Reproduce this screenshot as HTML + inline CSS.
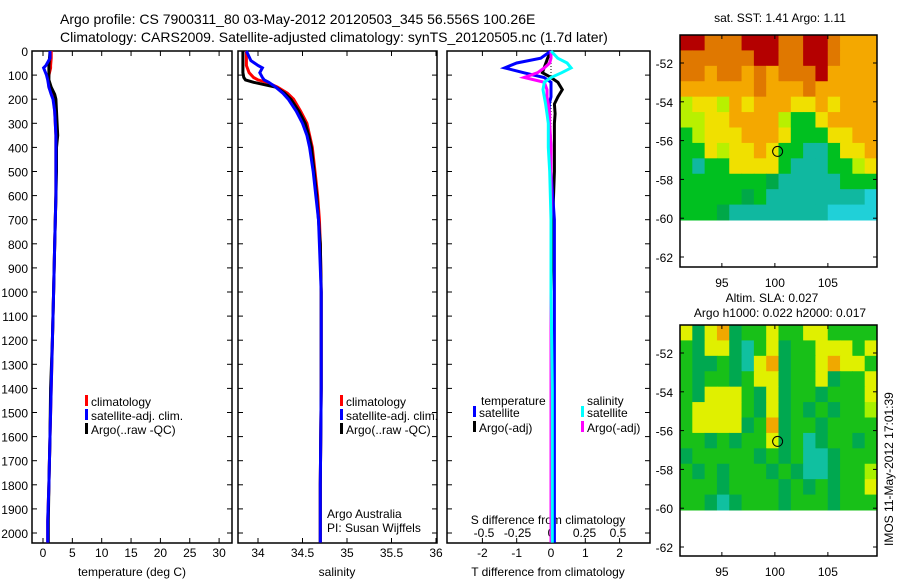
<!DOCTYPE html>
<html><head><meta charset="utf-8"><style>
body{margin:0;background:#fff}
svg{display:block;font-family:"Liberation Sans",sans-serif}
</style></head><body>
<svg id="fig" width="900" height="580" viewBox="0 0 900 580">
<text x="60" y="24" font-size="14">Argo profile: CS 7900311_80 03-May-2012 20120503_345 56.556S 100.26E</text>
<text x="60" y="42" font-size="14">Climatology: CARS2009. Satellite-adjusted climatology: synTS_20120505.nc (1.7d later)</text>
<g id="g"></g>
</svg>
<script>
// ---- data ----
const tempDepths=[0,30,60,70,100,120,150,180,200,250,300,350,400,500,600,700,800,1000,1200,1400,1600,1800,1950,2040];
const tempClim=[1.4,1.4,1.3,1.3,1.0,0.9,1.0,1.5,1.8,2.0,2.1,2.2,2.2,2.2,2.2,2.1,2.0,1.8,1.6,1.4,1.2,1.0,0.8,0.8];
const tempSat=[1.2,1.2,0.5,0.1,0.6,0.8,1.0,1.4,1.7,2.0,2.1,2.2,2.2,2.2,2.2,2.1,2.0,1.8,1.6,1.4,1.2,1.0,0.8,0.8];
const tempArgo=[1.2,1.1,1.0,1.0,1.0,1.0,1.4,2.0,2.2,2.3,2.4,2.5,2.3,2.3,2.2,2.1,2.0,1.8,1.6,1.3,1.2,1.0,0.9,0.9];
const salDepths=[0,40,60,70,90,110,120,130,150,175,200,250,300,350,400,500,600,700,800,1000,1400,1800,2040];
const salClim=[33.87,33.87,33.87,33.88,33.9,33.95,34.0,34.1,34.22,34.33,34.4,34.48,34.55,34.58,34.61,34.64,34.67,34.69,34.7,34.71,34.71,34.7,34.7];
const salSat=[33.87,33.92,34.0,34.05,34.02,34.05,34.07,34.12,34.2,34.28,34.34,34.43,34.5,34.55,34.58,34.62,34.65,34.68,34.69,34.71,34.71,34.7,34.7];
const salArgo=[33.83,33.83,33.83,33.83,33.83,33.84,33.86,33.95,34.2,34.3,34.37,34.46,34.53,34.57,34.6,34.63,34.66,34.68,34.7,34.71,34.71,34.7,34.7];
const diffDepths=[0,30,50,70,90,110,130,160,190,220,260,300,400,500,700,1000,1400,2040];
const dTsat=[0.0,-0.3,-1.0,-1.35,-0.8,-0.2,0.0,0.0,0.0,-0.05,-0.05,-0.05,0.0,0.0,0.1,0.1,0.1,0.1];
const dTargo=[0.0,-0.1,-0.15,-0.2,-0.25,0.0,0.2,0.33,0.2,0.1,0.12,0.1,0.1,0.1,0.05,0.0,0.0,0.0];
const dSsat=[0.0,0.05,0.12,0.15,0.08,0.0,-0.05,-0.06,-0.05,-0.04,-0.03,-0.02,-0.02,-0.01,0.0,0.0,0.01,0.01];
const dSargo=[0.0,0.0,-0.01,-0.05,-0.1,-0.2,-0.05,-0.03,-0.03,-0.02,-0.01,-0.01,0.0,0.0,0.0,0.0,0.0,0.0];
const depthTicks=[0,100,200,300,400,500,600,700,800,900,1000,1100,1200,1300,1400,1500,1600,1700,1800,1900,2000];
const tempTicks=[0,5,10,15,20,25,30];
const salTicks=[34,34.5,35,35.5,36];
const tdTicks=[-2,-1,0,1,2];
const sdTicks=[-0.5,-0.25,0,0.25,0.5];
const latTicks=[-52,-54,-56,-58,-60,-62];
const lonTicks=[95,100,105];
const floatLon=100.26, floatLat=-56.556;
const sstGrid=["RROOORRROORROooo","OOOOOORROORROooo","OOoOOoOoOOORoooo","ooooooOoooOooooo","yYYyoYoooYYoYooo","yyYYooooyGGYoooo","GyYYYoooYGGGYYoo","GGYyYYoYGGCCGYYo","GCGGYYYYGCCCGGyY","GGGGGGGgCCCCCGGG","GGGGGgGCCCCCCCCc","GGGgCCCCCCCCcccc"];
const slaGrid=["YgYOgGGYGGYYGGGG","GgYYgCGYgGGYYYGY","GggGgCYOgGGYOYYG","GgGGgGYYgGGYgGGY","GgYYYGgYgGGgGGGY","GYYYYGgYgGgGgGGy","GYYYYgGOgGGgGGGG","GGgGgGGYgGCgGGgG","gGGGGGgGgGCCgGGG","GgGgGGGgGgCCgGGy","GGGgGGGGgGgGgGGY","GGgCgGGGgGGGgGGG"];
// ---- scales ----
const yD=d=>51+0.241*d;
const xT=t=>43+5.87*t, xS=s=>258+89*(s-34), xdT=t=>551+34.3*t, xdS=s=>551+134*s;
const mapLon=l=>680+10.6*(l-91.05);
const NS="http://www.w3.org/2000/svg", G=document.getElementById('g');
function el(tag,attrs,parent){const e=document.createElementNS(NS,tag);for(const k in attrs)e.setAttribute(k,attrs[k]);(parent||G).appendChild(e);return e;}
function txt(x,y,s,size,anchor,name){const t=el('text',{x:x,y:y,'font-size':size,'text-anchor':anchor||'start'});t.textContent=s;


return t;}
function frame(x0,x1,y0,y1,name){const r=el('rect',{x:x0,y:y0,width:x1-x0,height:y1-y0,fill:'none',stroke:'#000','stroke-width':1.5});

}
function line(xs,ds,fx,color,name,w){const pts=xs.map((v,i)=>fx(v).toFixed(1)+','+yD(ds[i]).toFixed(1)).join(' ');
const p=el('polyline',{points:pts,fill:'none',stroke:color,'stroke-width':w||3});

}
function vtick(x,y0,y1){el('line',{x1:x,x2:x,y1:y0,y2:y0+5,stroke:'#000'});el('line',{x1:x,x2:x,y1:y1,y2:y1-5,stroke:'#000'});}
const TOP=51,BOT=543;
frame(32,232,TOP,BOT,'temperature-panel-frame');
frame(238,437,TOP,BOT,'salinity-panel-frame');
frame(447,650,TOP,BOT,'difference-panel-frame');
depthTicks.forEach(d=>{txt(28,yD(d)+5,String(d),12,'end','depth-tick-label');
[[32,1],[232,-1],[238,1],[437,-1],[447,1],[650,-1]].forEach(([x,s])=>el('line',{x1:x,x2:x+5*s,y1:yD(d),y2:yD(d),stroke:'#000'}));});
tempTicks.forEach(t=>{vtick(xT(t),TOP,BOT);txt(xT(t),557,String(t),12,'middle','temperature-tick-label');});
salTicks.forEach(s=>{vtick(xS(s),TOP,BOT);txt(xS(s),557,String(s),12,'middle','salinity-tick-label');});
tdTicks.forEach(t=>{vtick(xdT(t),TOP,BOT);txt(xdT(t),557,String(t),12,'middle','t-difference-tick-label');});
sdTicks.forEach(s=>txt(xdS(s),537,String(s),12,'middle','s-difference-tick-label'));
txt(132,576,'temperature (deg C)',12,'middle','temperature-axis-title');
txt(337,576,'salinity',12,'middle','salinity-axis-title');
txt(548,576,'T difference from climatology',12,'middle','t-difference-axis-title');
txt(548,524,'S difference from climatology',12,'middle','s-difference-axis-title');
line(tempClim,tempDepths,xT,'#f00','temperature-climatology-line');
line(tempArgo,tempDepths,xT,'#000','temperature-argo-line');
line(tempSat,tempDepths,xT,'#00f','temperature-satellite-line');
line(salClim,salDepths,xS,'#f00','salinity-climatology-line');
line(salArgo,salDepths,xS,'#000','salinity-argo-line');
line(salSat,salDepths,xS,'#00f','salinity-satellite-line');
el('line',{x1:551,x2:551,y1:TOP,y2:yD(400),stroke:'#000','stroke-dasharray':'1,2'});
line(dTargo,diffDepths,xdT,'#000','t-diff-argo-line');
line(dTsat,diffDepths,xdT,'#00f','t-diff-satellite-line');
line(dSargo,diffDepths,xdS,'#f0f','s-diff-argo-line');
line(dSsat,diffDepths,xdS,'#0ff','s-diff-satellite-line');
function leg(x,y,c,s,name){el('rect',{x:x,y:y-6,width:3,height:11,fill:c});txt(x+6,y+5,s,12,'start',name);}
[[85,'#f00','climatology'],[85,'#00f','satellite-adj. clim.'],[85,'#000','Argo(..raw -QC)']].forEach((a,i)=>leg(a[0],401+i*14,a[1],a[2],'legend-entry'));
[[340,'#f00','climatology'],[340,'#00f','satellite-adj. clim.'],[340,'#000','Argo(..raw -QC)']].forEach((a,i)=>leg(a[0],401+i*14,a[1],a[2],'legend-entry'));
txt(481,405,'temperature',12,'start','legend-heading-temperature');
txt(587,405,'salinity',12,'start','legend-heading-salinity');
leg(473,412,'#00f','satellite','legend-entry');leg(473,427,'#000','Argo(-adj)','legend-entry');
leg(581,412,'#0ff','satellite','legend-entry');leg(581,427,'#f0f','Argo(-adj)','legend-entry');
txt(327,518,'Argo Australia',12,'start','credit-argo-australia');
txt(327,532,'PI: Susan Wijffels',12,'start','credit-pi');
const sstCol={R:'#b40000',O:'#e07800',o:'#f4a800',Y:'#f0e000',y:'#b8f000',G:'#00c020',g:'#00a848',C:'#10b8a0',c:'#20d0d8'};
const slaCol={Y:'#e0f000',y:'#a8f000',O:'#f0a800',G:'#18c018',g:'#00a850',C:'#10c0a0'};
function map(top,imgBot,axBot,grid,cols,name){
 const x0=680,x1=877,ny=grid.length,nx=grid[0].length,cw=(x1-x0)/nx,ch=(imgBot-top)/ny;
 const latY=l=>(top+28)+19.4*(-52-l)*1;
 grid.forEach((row,j)=>[...row].forEach((c,i)=>{const r=el('rect',{x:x0+i*cw,y:top+j*ch,width:cw+0.5,height:ch+0.5,fill:cols[c]});
 
 }));
 frame(x0,x1,top,axBot,name+'-frame');
 latTicks.forEach(l=>{const y=latY(l);el('line',{x1:x0,x2:x0+4,y1:y,y2:y,stroke:'#000'});el('line',{x1:x1,x2:x1-4,y1:y,y2:y,stroke:'#000'});txt(673,y+5,String(l),12,'end','latitude-tick-label');});
 lonTicks.forEach(l=>{const x=mapLon(l);el('line',{x1:x,x2:x,y1:axBot,y2:axBot-4,stroke:'#000'});el('line',{x1:x,x2:x,y1:top,y2:top+4,stroke:'#000'});txt(x,axBot+20,String(l),12,'middle','longitude-tick-label');});
 const c=el('circle',{cx:mapLon(floatLon),cy:latY(floatLat),r:5,fill:'none',stroke:'#000'});
 
 
}
map(35,220,267,sstGrid,sstCol,'sst-map');
map(325,510,556,slaGrid,slaCol,'sla-map');
txt(780,22,'sat. SST: 1.41  Argo: 1.11',12,'middle','sst-map-title');
txt(772,302,'Altim. SLA: 0.027',12,'middle','sla-map-title');
txt(780,317,'Argo h1000: 0.022 h2000: 0.017',12,'middle','sla-map-subtitle');
const ts=txt(0,0,'IMOS 11-May-2012 17:01:39',12,'start','timestamp');
ts.setAttribute('transform','translate(893,546) rotate(-90)');
</script>
</body></html>
